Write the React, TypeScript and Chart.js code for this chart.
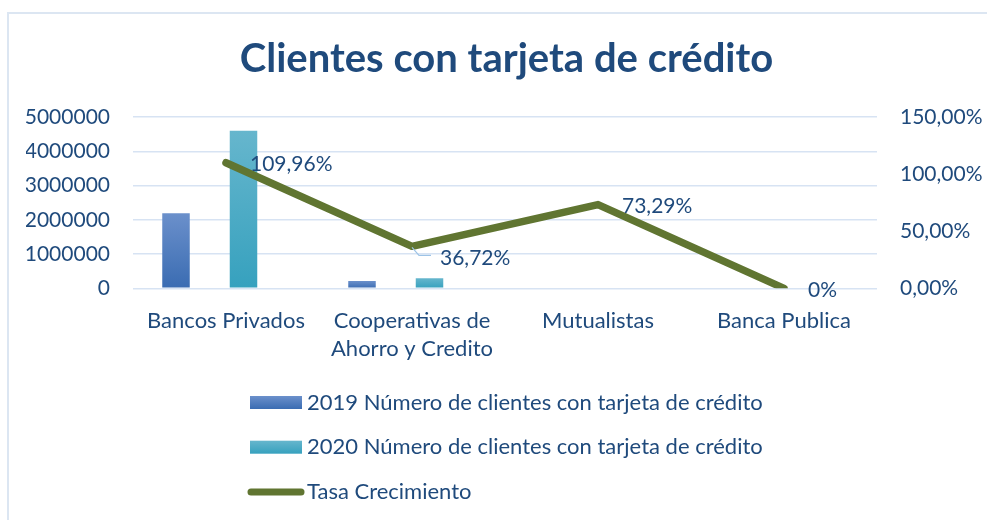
import React, { useEffect, useRef } from 'react';
import { Chart, registerables } from 'chart.js';

Chart.register(...registerables);

// ---------------- data ----------------
const CATEGORIES: (string | string[])[] = [
  'Bancos Privados',
  ['Cooperativas de', 'Ahorro y Credito'],
  'Mutualistas',
  'Banca Publica',
];
const CLIENTS_2019 = [2190000, 215000, 1500, 0];
const CLIENTS_2020 = [4598000, 294000, 2600, 0];
const GROWTH_RATE = [109.96, 36.72, 73.29, 0];

const LABEL_2019 = '2019 Número de clientes con tarjeta de crédito';
const LABEL_2020 = '2020 Número de clientes con tarjeta de crédito';
const LABEL_GROWTH = 'Tasa Crecimiento';
const TITLE = 'Clientes con tarjeta de crédito';

const LEFT_TICKS_MAX = 5000000;
const LEFT_TICKS_STEP = 1000000;
const RIGHT_TICKS_MAX = 150;
const RIGHT_TICKS_STEP = 50;

// ---------------- styles ----------------
const FONT = 'Lato, "Open Sans", sans-serif';
const TEXT = '#1F4A7C';
const GRID = '#D7E3F3';
const LINE_COLOR = '#607531';
const C2019 = ['#6B90CB', '#3A6CB2'];
const C2020 = ['#66B6CD', '#36A1BE'];
const BAR_DRAW_SHIFT = -16.25;
const NUM_SIZE = 21;
const TEXT_SIZE = 22;

const pct2 = (v: number) => v.toFixed(2).replace('.', ',') + '%';
const dataPct = (v: number) => (v === 0 ? '0%' : pct2(v));

const barGradient = (top: string, bottom: string) => (ctx: any) => {
  const chart = ctx.chart;
  if (!chart.chartArea || ctx.type !== 'data') return bottom;
  const ys = chart.scales.y;
  const v = ctx.parsed ? ctx.parsed.y : 0;
  const y0 = ys.getPixelForValue(v);
  const y1 = ys.getPixelForValue(0);
  if (!isFinite(y0) || Math.abs(y1 - y0) < 1) return 'rgba(0,0,0,0)';
  const g = chart.ctx.createLinearGradient(0, y0, 0, y1);
  g.addColorStop(0, top);
  g.addColorStop(1, bottom);
  return g;
};

// Excel places the column pair slightly left of the category centre
const barShiftPlugin = {
  id: 'barShift',
  beforeDatasetDraw(chart: any, args: any) {
    const ds = chart.data.datasets[args.index];
    if (ds.type === 'bar') {
      chart.ctx.save();
      chart.ctx.translate(BAR_DRAW_SHIFT, 0);
    }
  },
  afterDatasetDraw(chart: any, args: any) {
    const ds = chart.data.datasets[args.index];
    if (ds.type === 'bar') chart.ctx.restore();
  },
};

const dataLabelPlugin = {
  id: 'growthLabels',
  afterDatasetsDraw(chart: any) {
    const ctx = chart.ctx;
    chart.data.datasets.forEach((ds: any, di: number) => {
      if (ds.type !== 'line') return;
      const meta = chart.getDatasetMeta(di);
      meta.data.forEach((pt: any, i: number) => {
        const v = ds.data[i];
        let dx = 24;
        let dy = 2;
        const leader = i === 1;
        if (leader) {
          dx = 28;
          dy = 12;
        }
        ctx.save();
        if (leader) {
          ctx.strokeStyle = '#9DC3E6';
          ctx.lineWidth = 1.2;
          ctx.beginPath();
          ctx.moveTo(pt.x, pt.y + 1);
          ctx.lineTo(pt.x + 7, pt.y + 9);
          ctx.lineTo(pt.x + 19, pt.y + 9);
          ctx.stroke();
        }
        ctx.font = `${NUM_SIZE}px ${FONT}`;
        ctx.fillStyle = TEXT;
        ctx.textAlign = 'left';
        ctx.textBaseline = 'middle';
        ctx.fillText(dataPct(v), pt.x + dx, pt.y + dy);
        ctx.restore();
      });
    });
  },
};

const legendPlugin = {
  id: 'stackedLegend',
  afterDraw(chart: any) {
    const ctx = chart.ctx;
    const x0 = 250;
    const top = 402.5;
    const step = 44.7;
    chart.data.datasets.forEach((ds: any, i: number) => {
      const y = top + i * step;
      ctx.save();
      if (ds.type === 'line') {
        ctx.strokeStyle = ds.borderColor;
        ctx.lineWidth = 7;
        ctx.lineCap = 'round';
        ctx.beginPath();
        ctx.moveTo(x0 + 1, y);
        ctx.lineTo(x0 + 51, y);
        ctx.stroke();
      } else {
        const cols = ds.swatch as string[];
        const g = ctx.createLinearGradient(0, y - 6.5, 0, y + 6.5);
        g.addColorStop(0, cols[0]);
        g.addColorStop(1, cols[1]);
        ctx.fillStyle = g;
        ctx.fillRect(x0, y - 6.5, 52, 13);
      }
      ctx.font = `${TEXT_SIZE}px ${FONT}`;
      ctx.fillStyle = TEXT;
      ctx.textAlign = 'left';
      ctx.textBaseline = 'middle';
      ctx.fillText(ds.label, x0 + 57, y);
      ctx.restore();
    });
  },
};

export default function App() {
  const ref = useRef<HTMLCanvasElement>(null);

  useEffect(() => {
    if (!ref.current) return;
    const barCommon = {
      type: 'bar',
      xAxisID: 'x',
      yAxisID: 'y',
      categoryPercentage: 135 / 186,
      barPercentage: 27.5 / 67.5,
      order: 1,
    };
    const chart = new Chart(ref.current, {
      type: 'bar',
      data: {
        labels: CATEGORIES as any,
        datasets: [
          {
            ...barCommon,
            label: LABEL_2019,
            data: CLIENTS_2019,
            backgroundColor: barGradient(C2019[0], C2019[1]),
            swatch: C2019,
          } as any,
          {
            ...barCommon,
            label: LABEL_2020,
            data: CLIENTS_2020,
            backgroundColor: barGradient(C2020[0], C2020[1]),
            swatch: C2020,
          } as any,
          {
            type: 'line',
            label: LABEL_GROWTH,
            data: GROWTH_RATE,
            xAxisID: 'x',
            yAxisID: 'y1',
            borderColor: LINE_COLOR,
            backgroundColor: LINE_COLOR,
            borderWidth: 7.5,
            borderCapStyle: 'round',
            borderJoinStyle: 'round',
            pointRadius: 0,
            tension: 0,
            order: 0,
          } as any,
        ],
      },
      options: {
        animation: false,
        responsive: true,
        maintainAspectRatio: false,
        layout: { padding: { left: 26, right: 0, top: 0, bottom: 141.7 } },
        plugins: {
          legend: { display: false },
          tooltip: { enabled: false },
          title: {
            display: true,
            text: TITLE,
            color: TEXT,
            font: { family: FONT, size: 40, weight: 'bold', lineHeight: 1.2 },
            padding: { top: 35, bottom: 34 },
          },
        },
        scales: {
          x: {
            type: 'category',
            offset: true,
            grid: { display: false, drawTicks: false },
            border: { display: false },
            ticks: {
              color: TEXT,
              font: { family: FONT, size: TEXT_SIZE, lineHeight: 1.28 },
              padding: 18.2,
              maxRotation: 0,
              autoSkip: false,
            },
            afterFit: (s: any) => {
              s.height = 90;
            },
          },
          y: {
            position: 'left',
            min: 0,
            max: LEFT_TICKS_MAX,
            grid: { color: GRID, lineWidth: 1.5, drawTicks: false },
            border: { display: false },
            ticks: {
              stepSize: LEFT_TICKS_STEP,
              color: TEXT,
              font: { family: FONT, size: NUM_SIZE },
              padding: 23,
              callback: (v: any) => String(v),
            },
            afterFit: (s: any) => {
              s.width = 107;
            },
          },
          y1: {
            position: 'right',
            min: 0,
            max: RIGHT_TICKS_MAX,
            grid: { display: false, drawTicks: false },
            border: { display: false },
            ticks: {
              stepSize: RIGHT_TICKS_STEP,
              color: TEXT,
              font: { family: FONT, size: NUM_SIZE },
              padding: 23,
              callback: (v: any) => pct2(Number(v)),
            },
            afterFit: (s: any) => {
              s.width = 110;
            },
          },
        } as any,
      },
      plugins: [barShiftPlugin, dataLabelPlugin, legendPlugin],
    });
    return () => chart.destroy();
  }, []);

  return (
    <div
      style={{
        position: 'fixed',
        left: 0,
        top: 0,
        width: 987,
        height: 520,
        overflow: 'hidden',
        background: '#ffffff',
      }}
    >
      <div
        style={{
          position: 'absolute',
          left: 7,
          top: 12,
          width: 1000,
          height: 600,
          border: '2px solid #DCE6F2',
          boxSizing: 'border-box',
        }}
      />
      <div style={{ position: 'absolute', left: 0, top: 0, width: 987, height: 520 }}>
        <canvas ref={ref} />
      </div>
    </div>
  );
}
